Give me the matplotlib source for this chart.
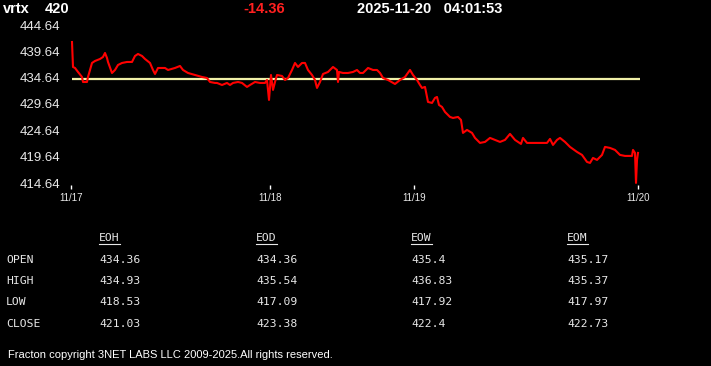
import matplotlib
matplotlib.use("Agg")
import matplotlib.pyplot as plt

# ---------------- data ----------------
symbol = "vrtx"
last_price = "420"
change = "-14.36"
timestamp = "2025-11-20   04:01:53"

# sample index (intraday position) and price
idx = [1, 2, 4, 7, 11, 12, 16, 17, 21, 24, 29, 32, 34, 36, 37, 41, 44, 47, 51, 56, 61, 64, 67, 71, 74, 79, 82, 84, 87, 91, 94, 97, 104, 109, 112, 117, 124, 131, 136, 139, 144,
       146, 151, 156, 159, 162, 167, 171, 176, 179, 184, 189, 194, 196, 198, 200, 202, 204, 206, 211, 214, 217, 221, 224, 227, 231, 234, 237, 241, 244, 246, 249, 252, 257, 262, 266, 267, 268, 272, 277, 282, 286, 289,
       292, 297, 302, 306, 309, 312, 317, 324, 329, 334, 339, 342, 346, 349, 351, 354, 357, 361, 364, 366, 368, 371, 374, 379, 382, 387, 390, 392, 396, 401, 404, 409, 414, 419, 424, 429, 434, 439, 444, 447, 450, 452, 456, 462, 469, 476, 479, 482, 486, 489, 494, 499, 506, 511, 516, 519, 522, 526, 531, 534, 539, 544, 549, 554, 561, 562, 564, 565, 566, 567]
price = [441.41, 436.67, 436.48, 435.72, 434.77, 433.82, 433.82, 434.77, 437.43, 437.81, 438.19, 438.57, 439.33, 438.38, 437.62, 435.53, 436.10, 437.05, 437.43, 437.62, 437.62, 438.76, 439.14, 438.76, 438.19, 437.43, 436.10, 435.34, 436.48, 436.48, 436.48, 436.10, 436.48, 436.86, 436.10, 435.53, 435.15, 434.77, 434.58, 433.82, 433.64,
         433.64, 433.25, 433.64, 433.25, 433.64, 433.82, 433.64, 432.88, 433.25, 433.82, 433.64, 433.64, 434.20, 430.41, 435.15, 432.31, 433.82, 435.15, 434.96, 434.20, 434.58, 436.10, 437.43, 436.67, 437.43, 437.43, 436.10, 435.15, 434.20, 432.69, 433.82, 435.34, 435.72, 436.67, 436.10, 433.82, 435.72, 435.53, 435.53, 435.72, 436.10, 435.53,
         435.53, 436.48, 436.10, 436.10, 435.53, 434.58, 434.20, 433.44, 434.20, 434.77, 436.10, 435.15, 434.20, 433.25, 432.69, 432.88, 430.03, 429.84, 430.79, 430.98, 429.46, 429.08, 428.13, 427.18, 426.99, 427.18, 426.61, 424.15, 424.72, 424.15, 423.20, 422.25, 422.44, 423.20, 422.82, 422.44, 422.82, 423.96, 422.82, 422.44, 422.06, 423.20, 422.25, 422.25, 422.25, 422.25, 423.01, 421.87, 422.82, 423.20, 422.44, 421.49, 420.54, 419.97, 418.64, 418.45, 419.40, 419.02, 419.97, 421.49, 421.30, 420.92, 419.97, 419.78, 419.78, 420.92, 420.35, 414.66, 419.02, 420.35]
reference_level = 434.36

date_ticks = [0, 199, 343, 567]
date_labels = ["11/17", "11/18", "11/19", "11/20"]
y_ticks = [414.64, 419.64, 424.64, 429.64, 434.64, 439.64, 444.64]

columns = ["EOH", "EOD", "EOW", "EOM"]
rows = ["OPEN", "HIGH", "LOW", "CLOSE"]
table_values = [
    ["434.36", "434.36", "435.4", "435.17"],
    ["434.93", "435.54", "436.83", "435.37"],
    ["418.53", "417.09", "417.92", "417.97"],
    ["421.03", "423.38", "422.4", "422.73"],
]
footer = "Fracton copyright 3NET LABS LLC 2009-2025.All rights reserved."

# ---------------- figure ----------------
W, H = 711, 366
fig = plt.figure(figsize=(W / 100, H / 100), dpi=100, facecolor="black")

def fx(px):
    return px / W

def fy(py):
    return 1 - py / H

ax_left, ax_right, ax_top, ax_bot = 64, 650, 20, 189
ax = fig.add_axes([fx(ax_left), fy(ax_bot), fx(ax_right - ax_left), (ax_bot - ax_top) / H])
ax.set_facecolor("black")

# x mapping: idx 0 -> pixel 71, idx 567 -> pixel 638
ppx = (638 - 71) / 567
ax.set_xlim(-(71 - ax_left) / ppx, 567 + (ax_right - 638) / ppx)
# y mapping: 444.64 -> pixel 25, 414.64 -> pixel 183
ppy = (183 - 25) / 30
ax.set_ylim(414.64 - (ax_bot - 183) / ppy, 444.64 + (25 - ax_top) / ppy)

ax.hlines(reference_level, idx[0], 569, color="#f0f0a8", lw=1.6, zorder=2)
ax.plot(idx, price, color="#ff0000", lw=1.5, zorder=3)

for s in ax.spines.values():
    s.set_visible(False)
ax.set_yticks(y_ticks)
ax.set_yticklabels([f"{v:.2f}" for v in y_ticks])
ax.tick_params(axis="y", length=0, pad=3, labelsize=9.5, labelcolor="#e8e8e8")
ax.set_xticks(date_ticks)
ax.set_xticklabels(date_labels)
ax.tick_params(axis="x", direction="in", length=3, width=1, color="white", pad=3,
               labelsize=7, labelcolor="#e8e8e8")
for lab in ax.get_yticklabels() + ax.get_xticklabels():
    lab.set_fontfamily("Liberation Sans")

# header
hdr = dict(color="white", fontsize=10.5, fontweight="bold", family="Liberation Sans", va="center", ha="left")
fig.text(fx(3), fy(9), symbol, **hdr)
fig.text(fx(45), fy(9), last_price, **hdr)
fig.text(fx(243), fy(9), change, **{**hdr, "color": "#ff2020"})
fig.text(fx(357), fy(9), timestamp, **hdr)

# table
mono = dict(color="#e8e8e8", fontsize=8.2, family="DejaVu Sans Mono", va="center", ha="left")
col_x = [99, 256, 411, 567]
row_y = [260, 281, 302, 324]
for c, x in zip(columns, col_x):
    fig.text(fx(x), fy(238), c, **mono)
    fig.add_artist(plt.Line2D([fx(x), fx(x + 21)], [fy(243.5), fy(243.5)], color="#e8e8e8", lw=0.8))
for r, y, vals in zip(rows, row_y, table_values):
    fig.text(fx(6), fy(y), r, **mono)
    for v, x in zip(vals, col_x):
        fig.text(fx(x), fy(y), v, **mono)

fig.text(fx(8), fy(355), footer, color="white", fontsize=8, family="Liberation Sans", va="center", ha="left")

fig.savefig("out.png", dpi=100, facecolor="black")
